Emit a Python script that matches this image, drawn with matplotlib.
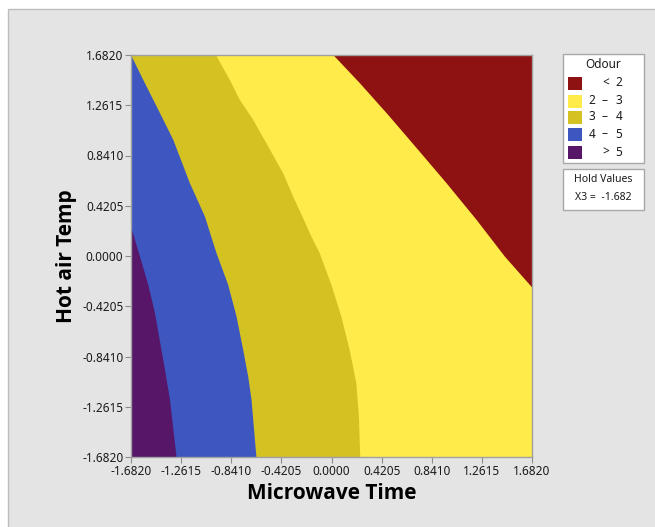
import matplotlib
matplotlib.use("Agg")
import matplotlib.pyplot as plt
from matplotlib.patches import Rectangle

plt.rcParams['font.family'] = ['Noto Sans', 'DejaVu Sans']

# ---- data ----
ticks = [-1.682, -1.2615, -0.841, -0.4205, 0.0, 0.4205, 0.841, 1.2615, 1.682]
tick_labels = ["-1.6820", "-1.2615", "-0.8410", "-0.4205", "0.0000",
               "0.4205", "0.8410", "1.2615", "1.6820"]

levels = ["< 2", "2 – 3", "3 – 4", "4 – 5", "> 5"]
colors = ["#8F1213", "#FFEB4A", "#D4C223", "#3D56C0", "#581668"]

# contour boundary Odour = 2 (between "< 2" and "2 - 3")
b2_x = [0.015, 0.239, 0.476, 0.728, 0.966, 1.218, 1.455, 1.682]
b2_y = [1.682, 1.445, 1.180, 0.887, 0.608, 0.301, -0.006, -0.262]
# contour boundary Odour = 3
b3_x = [-0.970, -0.853, -0.769, -0.657, -0.546, -0.406, -0.322, -0.244, -0.169,
        -0.099, -0.001, 0.082, 0.152, 0.208, 0.230, 0.241]
b3_y = [1.682, 1.473, 1.306, 1.139, 0.943, 0.693, 0.497, 0.330, 0.163,
        0.024, -0.241, -0.506, -0.785, -1.063, -1.342, -1.682]
# contour boundary Odour = 4
b4_x = [-1.682, -1.579, -1.445, -1.327, -1.188, -1.062, -0.965, -0.867, -0.797,
        -0.741, -0.699, -0.671, -0.630]
b4_y = [1.682, 1.473, 1.208, 0.971, 0.609, 0.330, 0.024, -0.241, -0.506,
        -0.785, -1.008, -1.203, -1.682]
# contour boundary Odour = 5
b5_x = [-1.682, -1.607, -1.537, -1.481, -1.439, -1.397, -1.355, -1.300]
b5_y = [0.247, -0.004, -0.241, -0.478, -0.715, -0.952, -1.203, -1.682]

hold_label = "X3 =  -1.682"

lo, hi = -1.682, 1.682
label_font = ['Open Sans', 'Lato', 'DejaVu Sans']

fig = plt.figure(figsize=(6.55, 5.27), dpi=100)
fig.patch.set_facecolor("white")
# gray panel background (Minitab style)
bg = Rectangle((8/655, -0.01), 1, 1.01 - 9/527, transform=fig.transFigure,
               facecolor="#E4E4E4", edgecolor="#BDBDBD", lw=1.0, zorder=-10)
fig.add_artist(bg)

ax = fig.add_axes([131/655, 1 - 457/527, 401/655, 402/527])
ax.set_zorder(5)
ax.set_xlim(lo, hi)
ax.set_ylim(lo, hi)

# base: > 5
ax.fill([lo, hi, hi, lo], [lo, lo, hi, hi], color=colors[4], lw=0)
# right of Odour=5 boundary: 4 - 5
ax.fill(b5_x + [hi, hi, lo], b5_y + [lo, hi, hi], color=colors[3], lw=0)
# right of Odour=4 boundary: 3 - 4
ax.fill(b4_x + [hi, hi], b4_y + [lo, hi], color=colors[2], lw=0)
# right of Odour=3 boundary: 2 - 3
ax.fill(b3_x + [hi, hi], b3_y + [lo, hi], color=colors[1], lw=0)
# above Odour=2 boundary: < 2
ax.fill(b2_x + [hi], b2_y + [hi], color=colors[0], lw=0)

ax.set_xticks(ticks)
ax.set_xticklabels(tick_labels)
ax.set_yticks(ticks)
ax.set_yticklabels(tick_labels)
ax.tick_params(axis='both', labelsize=8.5, length=4, width=0.8, color="#8C8C8C",
               pad=1.5, labelcolor="#1A1A1A")
for s in ax.spines.values():
    s.set_color("#A0A0A0")
    s.set_linewidth(1.0)

ax.set_xlabel("Microwave Time", fontsize=15, fontweight="bold", labelpad=4,
              family=label_font)
ax.set_ylabel("Hot air Temp", fontsize=15, fontweight="bold", labelpad=4,
              family=label_font)

# legend box
fig.add_artist(Rectangle((563/655, 1 - 163/527), 81/655, 109/527,
                         transform=fig.transFigure, facecolor="white",
                         edgecolor="#A8A8A8", lw=1.0, zorder=1))
fig.text(603/655, 1 - 65/527, "Odour", ha="center", va="center", fontsize=8.5,
         color="#1A1A1A", zorder=3)
row_y = [83, 101, 117, 134, 152]
for lab, col, yy in zip(levels, colors, row_y):
    fig.add_artist(Rectangle((568/655, 1 - (yy + 7)/527), 14/655, 13/527,
                             transform=fig.transFigure, facecolor=col,
                             edgecolor="none", zorder=2))
    parts = lab.split(" ")
    xs = [592, 605, 619] if len(parts) == 3 else [606, 619]
    for p, xx in zip(parts, xs):
        fig.text(xx/655, 1 - yy/527, p, ha="center", va="center",
                 fontsize=8.5, color="#1A1A1A", zorder=3)

# hold values box
fig.add_artist(Rectangle((563/655, 1 - 210/527), 81/655, 41/527,
                         transform=fig.transFigure, facecolor="white",
                         edgecolor="#A8A8A8", lw=1.0, zorder=1))
fig.text(603/655, 1 - 180/527, "Hold Values", ha="center", va="center",
         fontsize=7.5, color="#1A1A1A", zorder=3)
fig.text(603/655, 1 - 198/527, hold_label, ha="center", va="center",
         fontsize=7.5, color="#1A1A1A", zorder=3)

fig.savefig("out.png", dpi=100)
